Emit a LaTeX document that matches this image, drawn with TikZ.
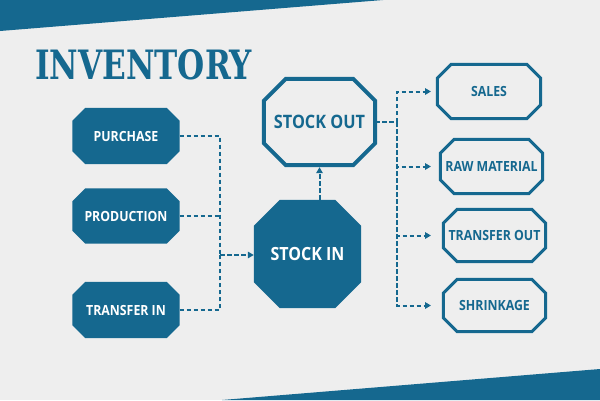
\documentclass[tikz,border=0pt]{standalone}
\usepackage{fontspec}
\usetikzlibrary{arrows.meta,calc}
\newfontfamily\labelfont[FakeStretch=0.88]{Open Sans}
\newfontfamily\titlefont{DejaVu Serif}
\definecolor{invblue}{HTML}{15688F}
\definecolor{paper}{HTML}{EEEEEE}
\pgfdeclarelayer{bglayer}
\pgfdeclarelayer{shapelayer}
\pgfsetlayers{bglayer,shapelayer,main}
% octagon drawn around a named node: #1 node, #2 chamfer (pt), #3 style
\newcommand{\octaround}[3]{%
  \path[#3] ([xshift=#2pt]#1.north west) -- ([xshift=-#2pt]#1.north east)
    -- ([yshift=-#2pt]#1.north east) -- ([yshift=#2pt]#1.south east)
    -- ([xshift=-#2pt]#1.south east) -- ([xshift=#2pt]#1.south west)
    -- ([yshift=#2pt]#1.south west) -- ([yshift=-#2pt]#1.north west) -- cycle;}
\tikzset{
  box/.style={rectangle, inner sep=0pt, font=\labelfont\bfseries\fontsize{14}{16}\selectfont},
  filledbox/.style={box, text=white},
  outlinebox/.style={box, text=invblue},
  octfill/.style={fill=invblue},
  octline/.style={draw=invblue, line width=3pt, line join=miter},
  conn/.style={draw=invblue, line width=2pt, dash pattern=on 4.5pt off 2.5pt},
  arr/.style={conn, -{Triangle[length=6pt,width=6.5pt]}},
}
\begin{document}
\begin{tikzpicture}[x=1pt,y=-1pt]
\useasboundingbox (0,0) rectangle (600,400);
\begin{pgfonlayer}{bglayer}
  \fill[paper] (0,0) rectangle (600,400);
  \fill[invblue] (0,0) -- (383,0) -- (0,31) -- cycle;
  \fill[invblue] (222,400) -- (600,369) -- (600,400) -- cycle;
\end{pgfonlayer}

\node[anchor=base west, inner sep=0pt, text=invblue] (title) at (35,79)
  {\resizebox{217pt}{30pt}{\titlefont\bfseries INVENTORY}};

% left sources
\node[filledbox, minimum width=107pt, minimum height=56pt] (purchase) at (126,136) {PURCHASE};
\node[filledbox, minimum width=107pt, minimum height=55pt] (production) at (126,216) {PRODUCTION};
\node[filledbox, minimum width=107pt, minimum height=56pt] (transferin) at (126,310) {TRANSFER IN};

% centre
\node[filledbox, font=\labelfont\bfseries\fontsize{18.2}{20}\selectfont,
  minimum width=107pt, minimum height=108pt] (stockin) at (307.5,254) {STOCK IN};
\node[outlinebox, font=\labelfont\bfseries\fontsize{18.5}{20}\selectfont,
  minimum width=111pt, minimum height=86pt] (stockout) at (319.5,122) {STOCK OUT};

% right outputs
\node[outlinebox, minimum width=103pt, minimum height=54pt] (sales) at (489,91.5) {SALES};
\node[outlinebox, minimum width=102pt, minimum height=54pt] (rawmat) at (491.5,166.5) {RAW MATERIAL};
\node[outlinebox, minimum width=102pt, minimum height=52pt] (transferout) at (494.5,235.5) {TRANSFER OUT};
\node[outlinebox, minimum width=102pt, minimum height=52pt] (shrinkage) at (494.5,305.5) {SHRINKAGE};

\begin{pgfonlayer}{shapelayer}
  \octaround{purchase}{13}{octfill}
  \octaround{production}{13}{octfill}
  \octaround{transferin}{13}{octfill}
  \octaround{stockin}{26}{octfill}
  \octaround{stockout}{22}{octline, line width=4pt}
  \octaround{sales}{14}{octline}
  \octaround{rawmat}{14}{octline}
  \octaround{transferout}{14}{octline}
  \octaround{shrinkage}{14}{octline}
\end{pgfonlayer}

% connectors
\coordinate (lbus) at (220,255);
\coordinate (rbus) at (397,122);
\coordinate (rend) at (431,0);
\draw[conn] (purchase.east) -| (lbus);
\draw[conn] (transferin.east) -| (lbus);
\draw[conn] (production.east) -- (production.east -| lbus);
\draw[arr] (lbus) -- (lbus -| stockin.west);
\draw[arr, shorten >=2pt] (stockin.north -| stockout.south) -- (stockout.south);
\draw[conn] (stockout.east) -- (rbus);
\draw[arr] (rbus) |- (sales.west -| rend);
\draw[arr] (rbus) |- (rawmat.west -| rend);
\draw[arr] (rbus) |- (transferout.west -| rend);
\draw[arr] (rbus) |- (shrinkage.west -| rend);
\end{tikzpicture}
\end{document}
